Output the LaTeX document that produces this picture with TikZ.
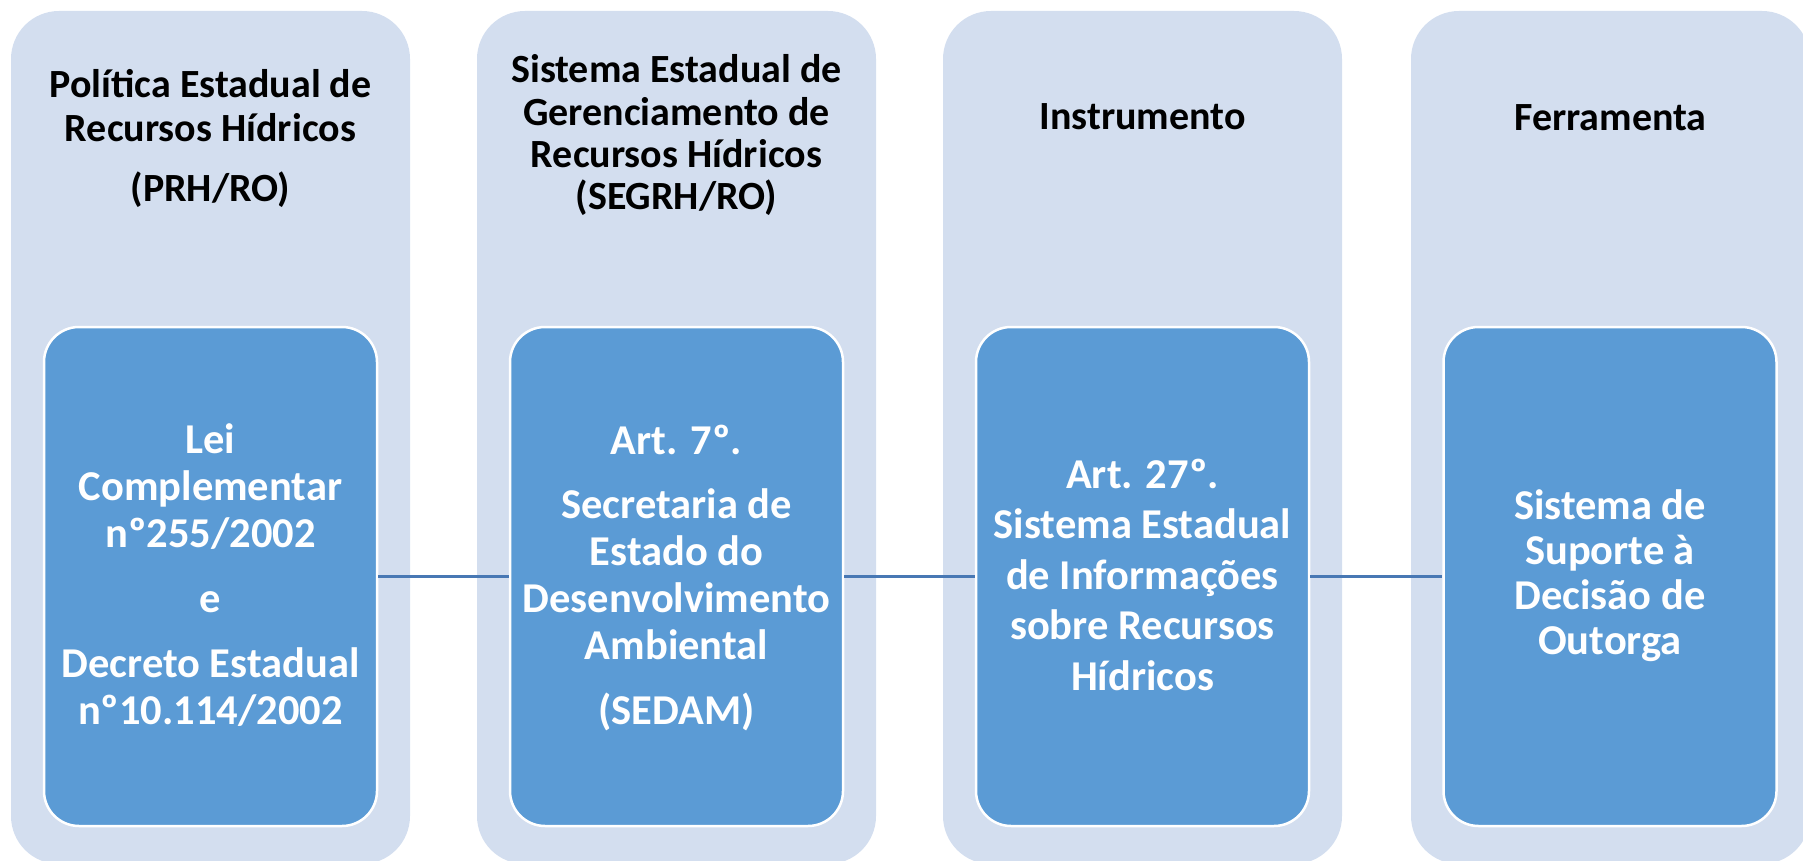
\documentclass[tikz,border=0pt]{standalone}
\usepackage{fontspec}
\setmainfont{Carlito}
\definecolor{outerfill}{RGB}{211,222,239}
\definecolor{innerfill}{RGB}{91,155,213}
\definecolor{linkcol}{RGB}{72,120,180}
\newcommand{\stk}[1]{\vtop{\lineskiplimit=-\maxdimen\tabskip=0pt\halign{\hfil##\hfil\cr #1\crcr}}}
\begin{document}
\begin{tikzpicture}[x=1pt,y=-1pt,
  outerbox/.style={fill=outerfill, draw=none, rounded corners=48pt, minimum width=399pt, minimum height=853pt, inner sep=0pt},
  innerbox/.style={fill=innerfill, draw=white, line width=2.5pt, rounded corners=35pt, minimum width=333pt, minimum height=499pt, inner sep=0pt},
  headtext/.style={anchor=base, inner sep=0pt, text=black, font=\bfseries\fontsize{40}{44}\selectfont},
  bodytext/.style={anchor=base, inner sep=0pt, text=white, font=\bfseries\fontsize{42.5}{47}\selectfont},
  link/.style={draw=linkcol, line width=2.5pt}]
\useasboundingbox (0,0) rectangle (1803,861);
\clip (0,0) rectangle (1803,861);
% outer columns
\node[outerbox] (o1) at (210.5,437.5) {};
\node[outerbox] (o2) at (676.5,437.5) {};
\node[outerbox] (o3) at (1142.5,437.5) {};
\node[outerbox] (o4) at (1610.5,437.5) {};
% inner boxes
\node[innerbox] (i1) at (210.5,576.5) {};
\node[innerbox] (i2) at (676.5,576.5) {};
\node[innerbox] (i3) at (1142.5,576.5) {};
\node[innerbox] (i4) at (1610,576.5) {};
% connectors
\draw[link] (i1.east) -- (i2.west);
\draw[link] (i2.east) -- (i3.west);
\draw[link] (i3.east) -- (i4.west);
% headings
\node[headtext] (h1) at (210.5,98) {\stk{Política Estadual de\cr Recursos Hídricos\cr\noalign{\vskip16pt} (PRH/RO)}};
\node[headtext, font=\bfseries\fontsize{40}{42.3}\selectfont] (h2) at (676.5,83) {\stk{Sistema Estadual de\cr Gerenciamento de\cr Recursos Hídricos\cr (SEGRH/RO)}};
\node[headtext] (h3) at (1142.5,130) {Instrumento};
\node[headtext] (h4) at (1610.5,131) {Ferramenta};
% inner texts
\node[bodytext] (t1) at (210.5,453) {\stk{Lei\cr Complementar\cr nº255/2002\cr\noalign{\vskip18pt} e\cr\noalign{\vskip18pt} Decreto Estadual\cr nº10.114/2002}};
\node[bodytext] (t2) at (676.5,454) {\stk{Art. 7º.\cr\noalign{\vskip17pt} Secretaria de\cr Estado do\cr Desenvolvimento\cr Ambiental\cr\noalign{\vskip18pt} (SEDAM)}};
\node[bodytext, font=\bfseries\fontsize{42.5}{50.5}\selectfont] (t3) at (1142.5,488) {\stk{Art. 27º.\cr Sistema Estadual\cr de Informações\cr sobre Recursos\cr Hídricos}};
\node[bodytext, font=\bfseries\fontsize{42.5}{45.3}\selectfont] (t4) at (1610,519) {\stk{Sistema de\cr Suporte à\cr Decisão de\cr Outorga}};
\end{tikzpicture}
\end{document}
